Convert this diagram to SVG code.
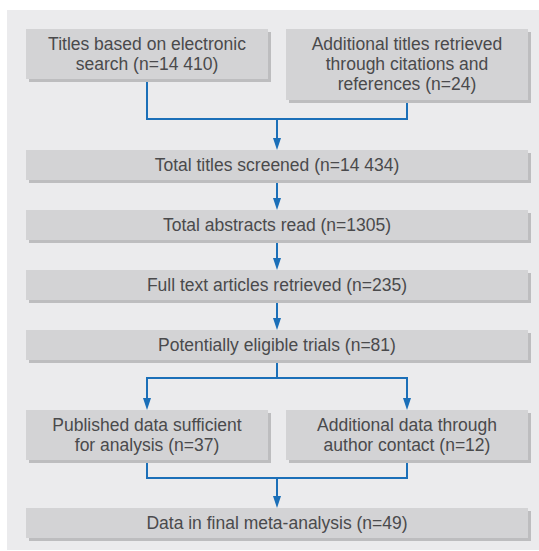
<svg xmlns="http://www.w3.org/2000/svg" width="539" height="551" viewBox="0 0 539 551">
<defs>
<style>
.bg{fill:#ffffff}
.panel{fill:#ebebed}
.box{fill:#d3d3d5}
.sh{fill:#bdbdbf}
.t{font-family:"Liberation Sans",Arial,sans-serif;font-size:17.5px;fill:#4a4a4c;text-anchor:middle}
.c{fill:none;stroke:#1b6fb8;stroke-width:2}
</style>
<marker id="ah" markerUnits="userSpaceOnUse" markerWidth="13" markerHeight="9" refX="6" refY="4" orient="auto">
<path d="M0,0 L12,4 L0,8 z" fill="#1b6fb8"/>
</marker>
</defs>
<rect class="bg" x="0" y="0" width="539" height="551"/>
<rect class="panel" x="7" y="10" width="532" height="540"/>

<g id="connectors">
<path class="c" d="M147,79 V119 H407 V100"/>
<path class="c" d="M277,119 V144" marker-end="url(#ah)"/>
<path class="c" d="M277,180 V204" marker-end="url(#ah)"/>
<path class="c" d="M277,240 V264" marker-end="url(#ah)"/>
<path class="c" d="M277,300 V324" marker-end="url(#ah)"/>
<path class="c" d="M277,360 V378"/>
<path class="c" d="M146,378 H408"/>
<path class="c" d="M147,377 V404" marker-end="url(#ah)"/>
<path class="c" d="M407,377 V404" marker-end="url(#ah)"/>
<path class="c" d="M147,460 V478 H407 V460"/>
<path class="c" d="M277,478 V502" marker-end="url(#ah)"/>
</g>

<g id="n1">
<rect class="sh" x="29" y="32" width="242" height="50"/>
<rect class="box" x="26" y="29" width="242" height="50"/>
<text class="t" x="147" y="49.5">Titles based on electronic</text>
<text class="t" x="147" y="69.5">search (n=14 410)</text>
</g>
<g id="n2">
<rect class="sh" x="289" y="32" width="242" height="71"/>
<rect class="box" x="286" y="29" width="242" height="71"/>
<text class="t" x="407" y="49.5">Additional titles retrieved</text>
<text class="t" x="407" y="69.5">through citations and</text>
<text class="t" x="407" y="90">references (n=24)</text>
</g>
<g id="n3">
<rect class="sh" x="29" y="153" width="502" height="30"/>
<rect class="box" x="26" y="150" width="502" height="30"/>
<text class="t" x="277" y="170.5">Total titles screened (n=14 434)</text>
</g>
<g id="n4">
<rect class="sh" x="29" y="213" width="502" height="30"/>
<rect class="box" x="26" y="210" width="502" height="30"/>
<text class="t" x="277" y="230.5">Total abstracts read (n=1305)</text>
</g>
<g id="n5">
<rect class="sh" x="29" y="273" width="502" height="30"/>
<rect class="box" x="26" y="270" width="502" height="30"/>
<text class="t" x="277" y="290.5">Full text articles retrieved (n=235)</text>
</g>
<g id="n6">
<rect class="sh" x="29" y="333" width="502" height="30"/>
<rect class="box" x="26" y="330" width="502" height="30"/>
<text class="t" x="277" y="350.5">Potentially eligible trials (n=81)</text>
</g>
<g id="n7">
<rect class="sh" x="29" y="413" width="242" height="50"/>
<rect class="box" x="26" y="410" width="242" height="50"/>
<text class="t" x="147" y="430.5">Published data sufficient</text>
<text class="t" x="147" y="450.5">for analysis (n=37)</text>
</g>
<g id="n8">
<rect class="sh" x="289" y="413" width="242" height="50"/>
<rect class="box" x="286" y="410" width="242" height="50"/>
<text class="t" x="407" y="430.5">Additional data through</text>
<text class="t" x="407" y="450.5">author contact (n=12)</text>
</g>
<g id="n9">
<rect class="sh" x="29" y="511" width="502" height="30"/>
<rect class="box" x="26" y="508" width="502" height="30"/>
<text class="t" x="277" y="528.5">Data in final meta-analysis (n=49)</text>
</g>
</svg>
